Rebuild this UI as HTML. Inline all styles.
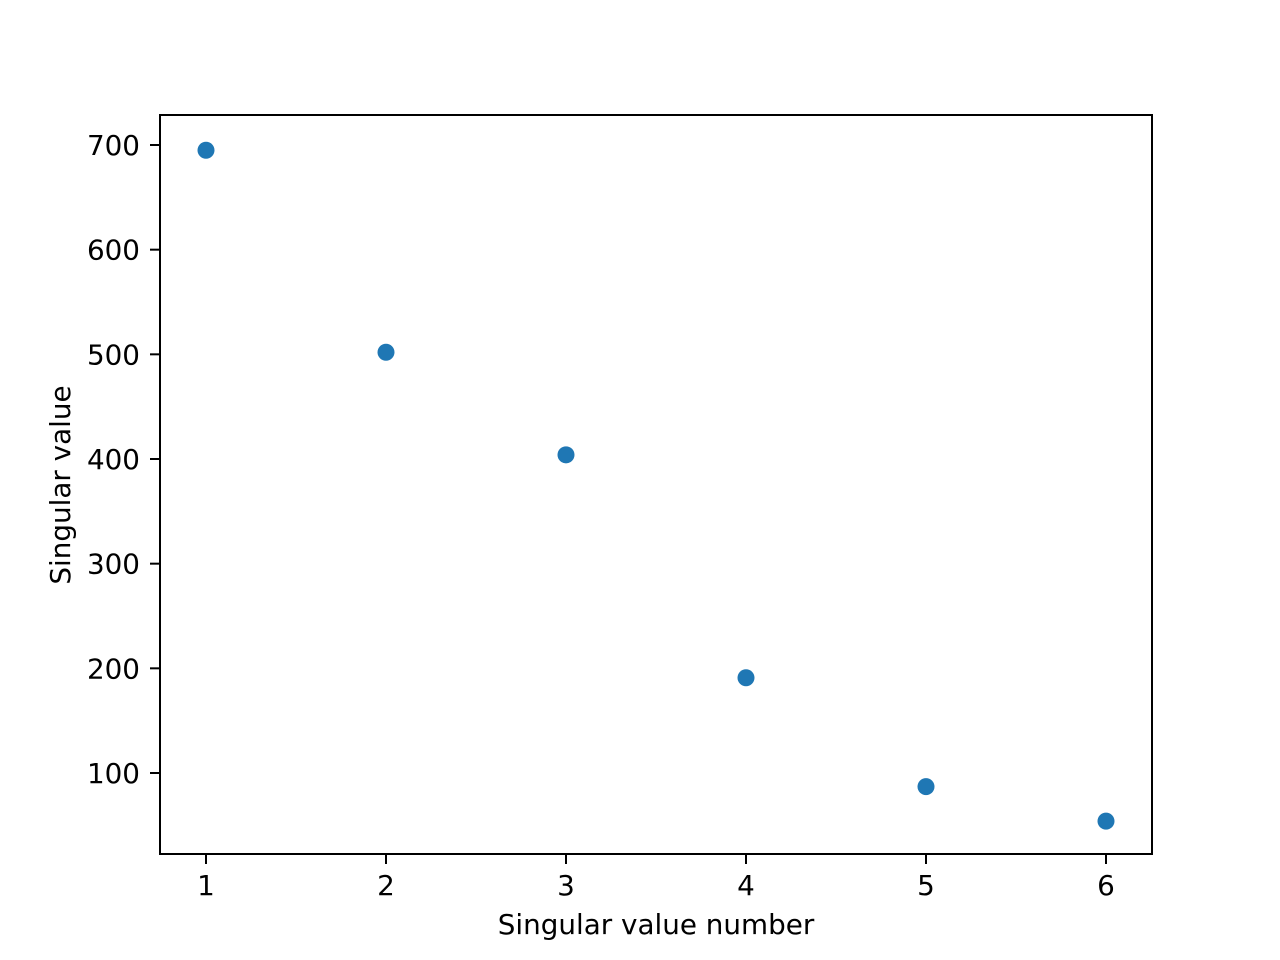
<!DOCTYPE html>
<html><head><meta charset="utf-8"><style>body{margin:0;background:#fff}svg{display:block}text{font-family:"DejaVu Sans","Liberation Sans",sans-serif;font-size:27.8px;fill:#000}</style></head>
<body>
<svg id="chart" width="1280" height="960">
<rect x="0" y="0" width="1280" height="960" fill="#fff"/>
<g id="marks"></g>
<g id="axes"></g>
<rect x="160" y="115" width="992" height="739" fill="none" stroke="#000" stroke-width="2"/>
<text x="656" y="934" text-anchor="middle">Singular value number</text>
<text transform="translate(70,485) rotate(-90)" text-anchor="middle">Singular value</text>
</svg>
<script>
const categories = [1, 2, 3, 4, 5, 6];
const values = [695, 502, 404, 191, 87, 54];
const xTicks = [1, 2, 3, 4, 5, 6];
const yTicks = [100, 200, 300, 400, 500, 600, 700];
const NS = 'http://www.w3.org/2000/svg';
function xs(v){return 206 + (v-1)*180;}
function ys(v){return 773 - (v-100)*628/600;}
const marks = document.getElementById('marks');
const axes = document.getElementById('axes');
categories.forEach((c,i)=>{
  const el = document.createElementNS(NS,'circle');
  el.setAttribute('cx', xs(c)); el.setAttribute('cy', ys(values[i])); el.setAttribute('r', 8.5);
  el.setAttribute('fill', '#1f77b4');
  
  
  marks.appendChild(el);
});
xTicks.forEach(t=>{
  const l = document.createElementNS(NS,'line');
  l.setAttribute('x1', xs(t)); l.setAttribute('x2', xs(t)); l.setAttribute('y1', 854); l.setAttribute('y2', 864);
  l.setAttribute('stroke', '#000'); l.setAttribute('stroke-width', 2);
  
  
  axes.appendChild(l);
  const tx = document.createElementNS(NS,'text');
  tx.setAttribute('x', xs(t)); tx.setAttribute('y', 895); tx.setAttribute('text-anchor', 'middle');
  tx.textContent = t;
  
  
  axes.appendChild(tx);
});
yTicks.forEach(t=>{
  const l = document.createElementNS(NS,'line');
  l.setAttribute('x1', 150); l.setAttribute('x2', 160); l.setAttribute('y1', ys(t)); l.setAttribute('y2', ys(t));
  l.setAttribute('stroke', '#000'); l.setAttribute('stroke-width', 2);
  
  
  axes.appendChild(l);
  const tx = document.createElementNS(NS,'text');
  tx.setAttribute('x', 140); tx.setAttribute('y', ys(t) + 10); tx.setAttribute('text-anchor', 'end');
  tx.textContent = t;
  
  
  axes.appendChild(tx);
});
</script>
</body></html>
